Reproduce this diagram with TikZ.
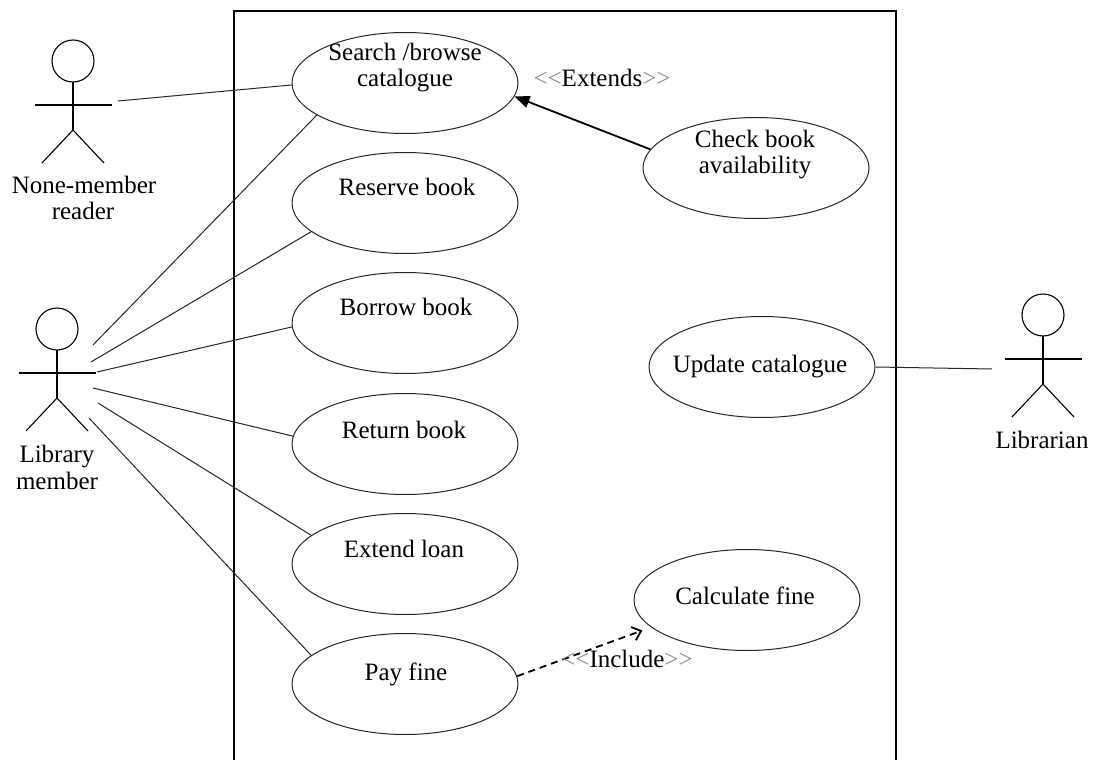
\documentclass[tikz,border=0pt]{standalone}
\usepackage{fontspec}
\setmainfont{Liberation Serif}
\usetikzlibrary{arrows.meta,shapes.geometric}
\newcommand\dlt{{\color{black!45}<\kern0pt<}}
\newcommand\dgt{{\color{black!45}>\kern0pt>}}
\begin{document}
\begin{tikzpicture}[x=1pt,y=-1pt,
  uc/.style={ellipse,draw=black!85,line width=1pt,minimum width=226pt,minimum height=101pt,inner sep=0pt},
  txt/.style={anchor=base,inner sep=0pt,font=\fontsize{25}{27}\selectfont},
  assoc/.style={draw=black!85,line width=1pt},
  boxline/.style={draw=black,line width=1.2pt},
  extarrow/.style={draw=black,line width=1.8pt,-{Triangle[length=15pt,width=12pt]}},
  incarrow/.style={draw=black,line width=1.8pt,dash pattern=on 7pt off 5pt,-{Straight Barb[length=8pt,width=14pt]}},
  actor/.pic={
    \draw[line width=1.1pt] (0,0) circle (21pt);
    \draw[line width=1.1pt] (0,21) -- (0,69);
    \draw[line width=1.1pt] (-38,44) -- (39,44);
    \draw[line width=1.1pt] (-31,102) -- (0,69) -- (31,102);
  }]
\useasboundingbox (0,0) rectangle (1098,760);
\fill[white] (0,0) rectangle (1098,760);

% system boundary (open at bottom)
\draw[boxline] (234,760) -- (234,11) -- (896,11) -- (896,760);

% actors
\pic (nonemember) at (73,61) {actor};
\node[txt] (nmL1) at (84,193) {None-member};
\node[txt] (nmL2) at (83,219) {reader};
\pic (libmember) at (57,329) {actor};
\node[txt] (lmL1) at (57,462) {Library};
\node[txt] (lmL2) at (57,489) {member};
\pic (librarian) at (1043,315) {actor};
\node[txt] (lbL1) at (1042,448) {Librarian};

% use cases
\node[uc] (search) at (405,83) {};
\node[txt] (searchT1) at (405,60) {Search /browse};
\node[txt] (searchT2) at (405,87) {catalogue};
\node[uc] (reserve) at (405,203) {};
\node[txt] (reserveT) at (407,195) {Reserve book};
\node[uc] (borrow) at (405,323) {};
\node[txt] (borrowT) at (406,315) {Borrow book};
\node[uc] (return) at (405,444) {};
\node[txt] (returnT) at (404,438) {Return book};
\node[uc] (extend) at (405,564) {};
\node[txt] (extendT) at (404,557) {Extend loan};
\node[uc] (pay) at (405,684) {};
\node[txt] (payT) at (406,680) {Pay fine};
\node[uc] (check) at (756,168) {};
\node[txt] (checkT1) at (755,147) {Check book};
\node[txt] (checkT2) at (755,173) {availability};
\node[uc] (update) at (762,367) {};
\node[txt] (updateT) at (760,372) {Update catalogue};
\node[uc] (calc) at (747,600) {};
\node[txt] (calcT) at (745,604) {Calculate fine};

% connector end points at the actors' hands
\coordinate (nmHand) at (118,101);
\coordinate (lmA) at (93,345);
\coordinate (lmB) at (91,362);
\coordinate (lmC) at (97,372);
\coordinate (lmD) at (93,388);
\coordinate (lmE) at (98,403);
\coordinate (lmF) at (89,418);
\coordinate (lbHand) at (992,369);
\coordinate (calcIn) at ([shift={(-9,3)}]calc.196);

% associations
\draw[assoc] (nmHand) -- (search.181.5);
\draw[assoc] (lmA) -- (search.200);
\draw[assoc] (lmB) -- (reserve.197);
\draw[assoc] (lmC) -- (borrow.182);
\draw[assoc] (lmD) -- (return.176.4);
\draw[assoc] (lmE) -- (extend.163.5);
\draw[assoc] (lmF) -- (pay.163);
\draw[assoc] (update.0) -- (lbHand);

% extends / include
\draw[extarrow] (check.170) -- (search.353);
\node[txt] (extLabel) at (602,86) {\dlt Extends\dgt};
\draw[incarrow] (pay.4.6) -- (calcIn);
\node[txt] (incLabel) at (627,667) {\dlt Include\dgt};
\end{tikzpicture}
\end{document}
